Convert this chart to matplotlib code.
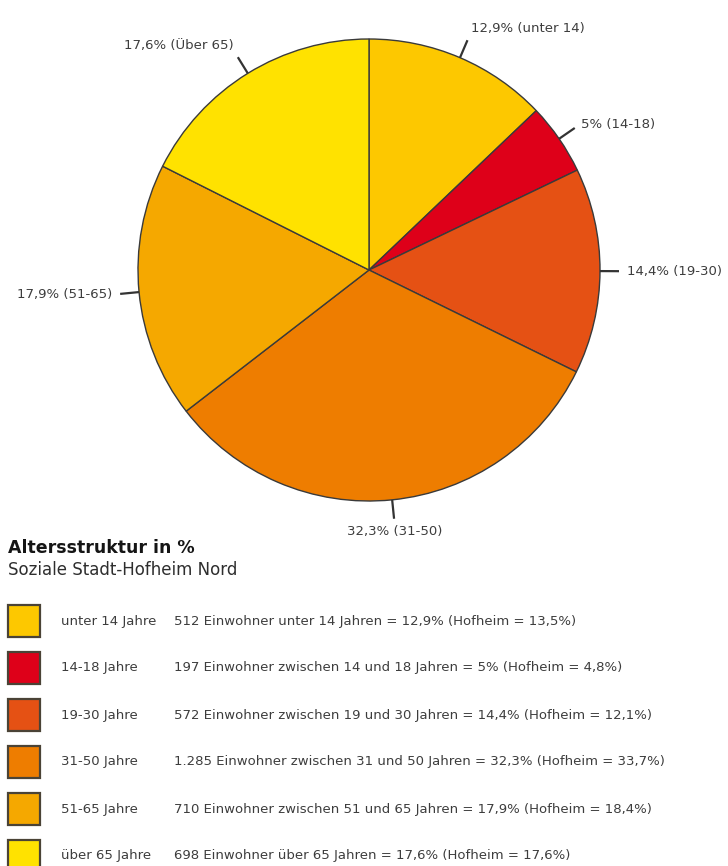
import matplotlib.pyplot as plt
import numpy as np

W, H = 728, 866

groups = ["unter 14 Jahre", "14-18 Jahre", "19-30 Jahre", "31-50 Jahre", "51-65 Jahre", "über 65 Jahre"]
short = ["unter 14", "14-18", "19-30", "31-50", "51-65", "Über 65"]
percent = [12.9, 5.0, 14.4, 32.3, 17.9, 17.6]
einwohner = ["512", "197", "572", "1.285", "710", "698"]
hofheim = [13.5, 4.8, 12.1, 33.7, 18.4, 17.6]
between = ["unter 14 Jahren", "zwischen 14 und 18 Jahren", "zwischen 19 und 30 Jahren",
           "zwischen 31 und 50 Jahren", "zwischen 51 und 65 Jahren", "über 65 Jahren"]
colors = ["#fdc800", "#de0019", "#e55114", "#ee7d00", "#f5a800", "#ffe200"]


def de(v):
    # german decimal comma, drop ",0"
    s = ("%.1f" % v).replace(".", ",")
    return s[:-2] if s.endswith(",0") else s


def py(y):
    # pixel row (top = 0) -> axes y
    return H - y


cx, cy, R = 369, py(270), 231
tick = 19
txt_col = "#3d3d3d"
fnt = "DejaVu Sans"

fig = plt.figure(figsize=(W / 100, H / 100), dpi=100)
ax = fig.add_axes([0, 0, 1, 1])

wedges, _ = ax.pie(percent, colors=colors, startangle=90, counterclock=False,
                   center=(cx, cy), radius=R,
                   wedgeprops=dict(edgecolor="#3a3a3a", linewidth=1.0))
ax.set_xlim(0, W)
ax.set_ylim(0, H)
ax.set_aspect("equal")
ax.axis("off")

# leader ticks + labels
align = [("left", "bottom"), ("left", "center"), ("left", "center"),
         ("center", "top"), ("right", "center"), ("right", "bottom")]
for w, p, s, (ha, va) in zip(wedges, percent, short, align):
    a = np.deg2rad((w.theta1 + w.theta2) / 2)
    ux, uy = np.cos(a), np.sin(a)
    ax.plot([cx + R * ux, cx + (R + tick) * ux], [cy + R * uy, cy + (R + tick) * uy],
            color="#333333", lw=1.6, solid_capstyle="butt")
    lx, ly = cx + (R + tick + 8) * ux, cy + (R + tick + 6) * uy
    ax.text(lx, ly, "%s%% (%s)" % (de(p), s), ha=ha, va=va, fontsize=9.5,
            color=txt_col, family=fnt)

# title block
ax.text(8, py(548), "Altersstruktur in %", fontsize=12.5, fontweight="bold",
        color="#151515", va="center", family=fnt)
ax.text(8, py(570), "Soziale Stadt-Hofheim Nord", fontsize=12,
        color="#2e2e2e", va="center", family=fnt)

# legend rows
for i, (g, c) in enumerate(zip(groups, colors)):
    yc = py(621 + 47 * i)
    ax.add_patch(plt.Rectangle((8, yc - 16), 32, 32, facecolor=c,
                               edgecolor="#4a4336", lw=1.6))
    ax.text(61, yc, g, fontsize=9.5, color=txt_col, va="center", family=fnt)
    desc = "%s Einwohner %s = %s%% (Hofheim = %s%%)" % (
        einwohner[i], between[i], de(percent[i]), de(hofheim[i]))
    ax.text(174, yc, desc, fontsize=9.5, color=txt_col, va="center", family=fnt)

fig.savefig("out.png", dpi=100)
